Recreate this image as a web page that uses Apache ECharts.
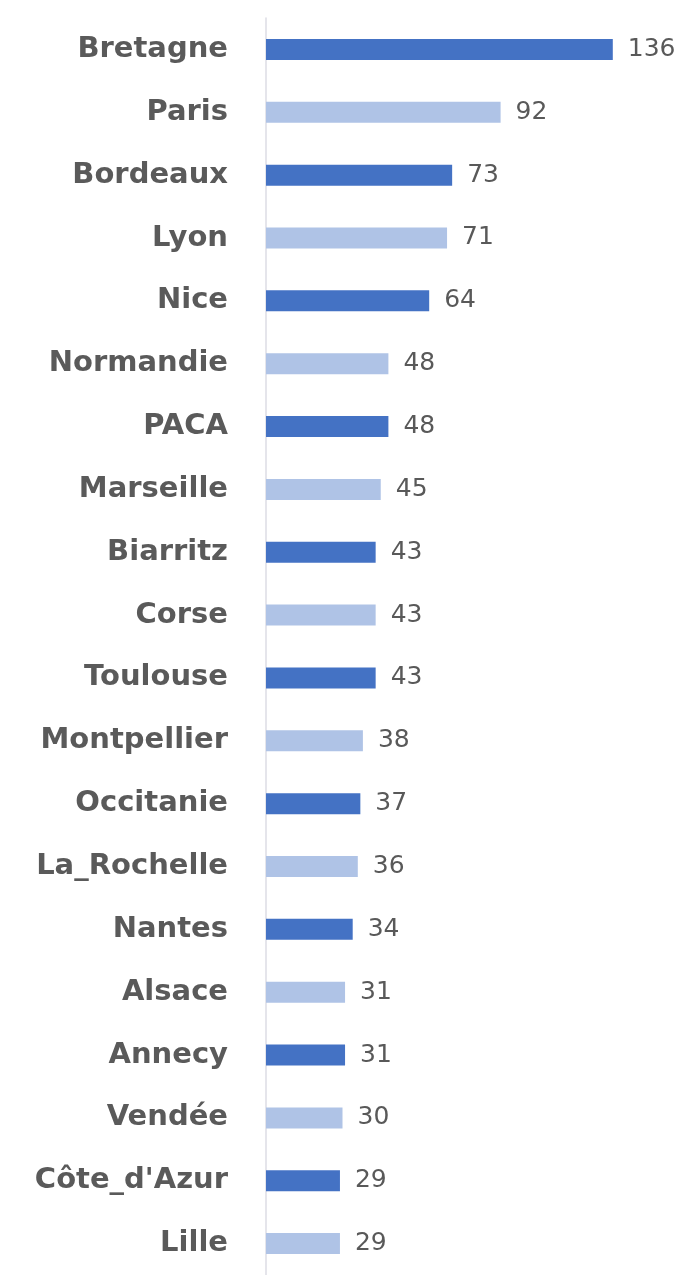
<!DOCTYPE html>
<html>
<head>
<meta charset="utf-8">
<style>
  html, body { margin: 0; padding: 0; background: #ffffff; }
  #chart { width: 681px; height: 1275px; }
</style>
<script src="https://cdn.jsdelivr.net/npm/echarts@6/dist/echarts.min.js"></script>
</head>
<body>
<div id="chart"></div>
<script>
// Destinations, ranked by count
const categories = [
  "Bretagne", "Paris", "Bordeaux", "Lyon", "Nice", "Normandie", "PACA",
  "Marseille", "Biarritz", "Corse", "Toulouse", "Montpellier", "Occitanie",
  "La_Rochelle", "Nantes", "Alsace", "Annecy", "Vendée", "Côte_d'Azur", "Lille"
];
const values = [136, 92, 73, 71, 64, 48, 48, 45, 43, 43, 43, 38, 37, 36, 34, 31, 31, 30, 29, 29];

// Bars alternate between a strong and a pale blue
const darkBlue = "#4472C4";
const lightBlue = "#AFC3E6";

const chart = echarts.init(document.getElementById("chart"), null, { renderer: "canvas" });

chart.setOption({
  animation: false,
  backgroundColor: "#ffffff",
  grid: { left: 266, top: 18, height: 1258, width: 408 },
  xAxis: {
    type: "value",
    min: 0,
    max: 160,
    show: false
  },
  yAxis: {
    type: "category",
    data: categories,
    inverse: true,
    axisLine: { show: true, lineStyle: { color: "#DCDCE4", width: 1.5 } },
    axisTick: { show: false },
    axisLabel: {
      margin: 38,
      fontFamily: "DejaVu Sans",
      fontWeight: "bold",
      fontSize: 29,
      color: "#5A5A5A"
    },
    splitLine: { show: false }
  },
  series: [{
    type: "bar",
    data: values,
    barWidth: 21,
    itemStyle: {
      color: (p) => (p.dataIndex % 2 === 0 ? darkBlue : lightBlue)
    },
    label: {
      show: true,
      position: "right",
      distance: 15,
      fontFamily: "DejaVu Sans",
      fontSize: 25,
      color: "#595959"
    }
  }]
});
</script>
</body>
</html>
